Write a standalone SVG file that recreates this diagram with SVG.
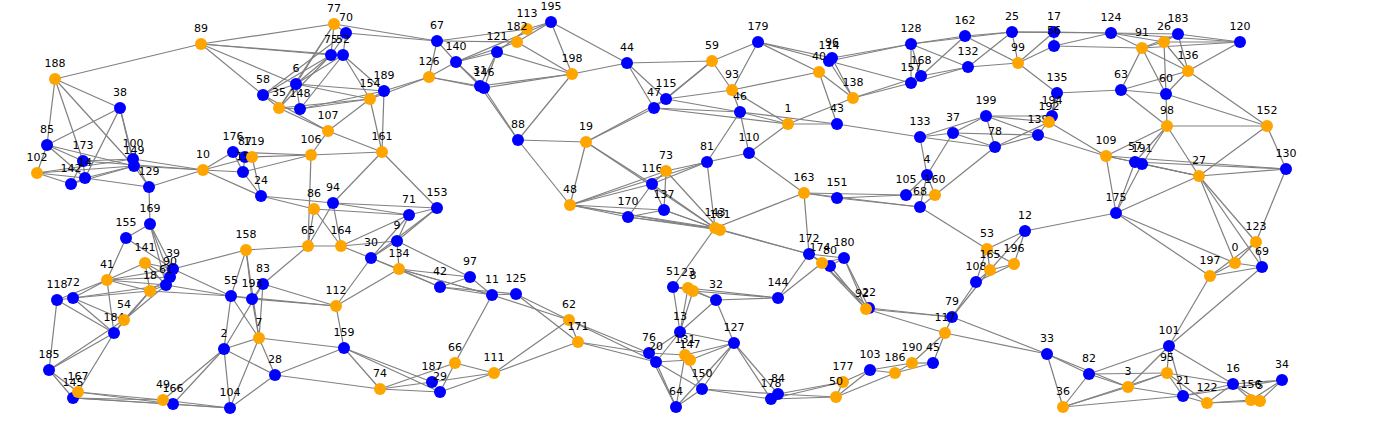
<svg xmlns="http://www.w3.org/2000/svg" width="1376" height="431" viewBox="0 0 1376 431">
<style>
.e line{stroke:#808080;stroke-width:1.2}
.b{fill:#0000ff}
.o{fill:#ffa500}
text{font-family:"DejaVu Sans",sans-serif;font-size:11px;fill:#000;text-anchor:middle}
</style>
<rect width="1376" height="431" fill="#fff"/>
<g id="edges" class="e">
<line x1="55" y1="79" x2="201" y2="44"/><line x1="55" y1="79" x2="120" y2="108"/><line x1="55" y1="79" x2="47" y2="145"/><line x1="55" y1="79" x2="83" y2="161"/><line x1="55" y1="79" x2="134" y2="166"/>
<line x1="120" y1="108" x2="47" y2="145"/><line x1="120" y1="108" x2="85" y2="178"/><line x1="120" y1="108" x2="134" y2="166"/><line x1="120" y1="108" x2="133" y2="159"/>
<line x1="47" y1="145" x2="37" y2="173"/><line x1="47" y1="145" x2="83" y2="161"/><line x1="47" y1="145" x2="134" y2="166"/><line x1="47" y1="145" x2="85" y2="178"/>
<line x1="37" y1="173" x2="71" y2="184"/><line x1="37" y1="173" x2="85" y2="178"/><line x1="37" y1="173" x2="134" y2="166"/><line x1="37" y1="173" x2="133" y2="159"/>
<line x1="83" y1="161" x2="133" y2="159"/><line x1="83" y1="161" x2="85" y2="178"/><line x1="83" y1="161" x2="71" y2="184"/><line x1="83" y1="161" x2="203" y2="170"/>
<line x1="85" y1="178" x2="134" y2="166"/><line x1="85" y1="178" x2="149" y2="187"/><line x1="71" y1="184" x2="134" y2="166"/><line x1="71" y1="184" x2="85" y2="178"/>
<line x1="133" y1="159" x2="149" y2="187"/><line x1="134" y1="166" x2="149" y2="187"/><line x1="134" y1="166" x2="203" y2="170"/><line x1="133" y1="159" x2="203" y2="170"/>
<line x1="149" y1="187" x2="203" y2="170"/><line x1="149" y1="187" x2="150" y2="224"/>
<line x1="203" y1="170" x2="233" y2="152"/><line x1="203" y1="170" x2="252" y2="157"/><line x1="203" y1="170" x2="243" y2="172"/><line x1="203" y1="170" x2="261" y2="196"/>
<line x1="233" y1="152" x2="311" y2="155"/><line x1="252" y1="157" x2="311" y2="155"/><line x1="243" y1="172" x2="311" y2="155"/><line x1="233" y1="152" x2="243" y2="172"/><line x1="245" y1="157" x2="243" y2="172"/><line x1="252" y1="157" x2="261" y2="196"/><line x1="243" y1="172" x2="261" y2="196"/><line x1="233" y1="152" x2="245" y2="157"/>
<line x1="261" y1="196" x2="333" y2="203"/><line x1="261" y1="196" x2="314" y2="209"/>
<line x1="311" y1="155" x2="382" y2="152"/><line x1="311" y1="155" x2="328" y2="131"/><line x1="311" y1="155" x2="308" y2="246"/>
<line x1="201" y1="44" x2="334" y2="24"/><line x1="201" y1="44" x2="331" y2="55"/><line x1="201" y1="44" x2="343" y2="55"/><line x1="201" y1="44" x2="263" y2="95"/><line x1="201" y1="44" x2="296" y2="84"/>
<line x1="334" y1="24" x2="346" y2="33"/><line x1="334" y1="24" x2="296" y2="84"/><line x1="334" y1="24" x2="279" y2="108"/><line x1="334" y1="24" x2="437" y2="41"/><line x1="334" y1="24" x2="331" y2="55"/>
<line x1="346" y1="33" x2="437" y2="41"/><line x1="346" y1="33" x2="331" y2="55"/><line x1="346" y1="33" x2="263" y2="95"/><line x1="346" y1="33" x2="343" y2="55"/>
<line x1="331" y1="55" x2="296" y2="84"/><line x1="331" y1="55" x2="263" y2="95"/><line x1="331" y1="55" x2="279" y2="108"/><line x1="331" y1="55" x2="343" y2="55"/>
<line x1="343" y1="55" x2="296" y2="84"/><line x1="343" y1="55" x2="370" y2="99"/><line x1="343" y1="55" x2="384" y2="91"/><line x1="343" y1="55" x2="300" y2="109"/>
<line x1="296" y1="84" x2="300" y2="109"/><line x1="296" y1="84" x2="279" y2="108"/><line x1="296" y1="84" x2="263" y2="95"/><line x1="296" y1="84" x2="370" y2="99"/><line x1="296" y1="84" x2="384" y2="91"/>
<line x1="263" y1="95" x2="279" y2="108"/><line x1="263" y1="95" x2="328" y2="131"/><line x1="279" y1="108" x2="328" y2="131"/><line x1="279" y1="108" x2="300" y2="109"/><line x1="279" y1="108" x2="370" y2="99"/>
<line x1="300" y1="109" x2="370" y2="99"/><line x1="300" y1="109" x2="384" y2="91"/><line x1="328" y1="131" x2="370" y2="99"/><line x1="328" y1="131" x2="382" y2="152"/>
<line x1="370" y1="99" x2="382" y2="152"/><line x1="384" y1="91" x2="382" y2="152"/><line x1="370" y1="99" x2="384" y2="91"/><line x1="384" y1="91" x2="429" y2="77"/><line x1="370" y1="99" x2="429" y2="77"/>
<line x1="429" y1="77" x2="437" y2="41"/><line x1="429" y1="77" x2="456" y2="62"/><line x1="429" y1="77" x2="484" y2="88"/><line x1="429" y1="77" x2="480" y2="86"/>
<line x1="437" y1="41" x2="456" y2="62"/><line x1="437" y1="41" x2="517" y2="42"/><line x1="437" y1="41" x2="527" y2="29"/>
<line x1="456" y1="62" x2="484" y2="88"/><line x1="456" y1="62" x2="480" y2="86"/><line x1="456" y1="62" x2="497" y2="52"/><line x1="456" y1="62" x2="517" y2="42"/><line x1="456" y1="62" x2="551" y2="22"/>
<line x1="497" y1="52" x2="484" y2="88"/><line x1="497" y1="52" x2="480" y2="86"/><line x1="497" y1="52" x2="572" y2="74"/><line x1="497" y1="52" x2="527" y2="29"/>
<line x1="517" y1="42" x2="572" y2="74"/><line x1="527" y1="29" x2="551" y2="22"/><line x1="517" y1="42" x2="551" y2="22"/><line x1="551" y1="22" x2="572" y2="74"/><line x1="551" y1="22" x2="627" y2="63"/>
<line x1="480" y1="86" x2="572" y2="74"/><line x1="484" y1="88" x2="572" y2="74"/><line x1="484" y1="88" x2="518" y2="140"/><line x1="480" y1="86" x2="518" y2="140"/>
<line x1="572" y1="74" x2="518" y2="140"/><line x1="572" y1="74" x2="627" y2="63"/><line x1="518" y1="140" x2="586" y2="142"/><line x1="518" y1="140" x2="570" y2="205"/>
<line x1="586" y1="142" x2="570" y2="205"/><line x1="586" y1="142" x2="654" y2="108"/><line x1="586" y1="142" x2="666" y2="99"/><line x1="586" y1="142" x2="652" y2="184"/><line x1="586" y1="142" x2="715" y2="228"/>
<line x1="627" y1="63" x2="654" y2="108"/><line x1="627" y1="63" x2="666" y2="99"/><line x1="627" y1="63" x2="712" y2="61"/>
<line x1="654" y1="108" x2="740" y2="112"/><line x1="666" y1="99" x2="740" y2="112"/><line x1="654" y1="108" x2="788" y2="124"/><line x1="712" y1="61" x2="654" y2="108"/><line x1="712" y1="61" x2="758" y2="42"/><line x1="712" y1="61" x2="732" y2="90"/><line x1="712" y1="61" x2="666" y2="99"/>
<line x1="758" y1="42" x2="732" y2="90"/><line x1="758" y1="42" x2="819" y2="72"/><line x1="758" y1="42" x2="829" y2="61"/><line x1="758" y1="42" x2="832" y2="58"/>
<line x1="732" y1="90" x2="819" y2="72"/><line x1="732" y1="90" x2="740" y2="112"/><line x1="732" y1="90" x2="788" y2="124"/><line x1="732" y1="90" x2="666" y2="99"/>
<line x1="740" y1="112" x2="788" y2="124"/><line x1="740" y1="112" x2="837" y2="124"/><line x1="740" y1="112" x2="749" y2="153"/><line x1="740" y1="112" x2="707" y2="162"/>
<line x1="788" y1="124" x2="749" y2="153"/><line x1="788" y1="124" x2="853" y2="98"/><line x1="788" y1="124" x2="837" y2="124"/>
<line x1="819" y1="72" x2="837" y2="124"/><line x1="819" y1="72" x2="853" y2="98"/><line x1="829" y1="61" x2="853" y2="98"/><line x1="832" y1="58" x2="853" y2="98"/><line x1="829" y1="61" x2="911" y2="83"/><line x1="832" y1="58" x2="911" y2="44"/><line x1="829" y1="61" x2="911" y2="44"/>
<line x1="853" y1="98" x2="911" y2="83"/><line x1="853" y1="98" x2="921" y2="76"/>
<line x1="911" y1="44" x2="911" y2="83"/><line x1="911" y1="44" x2="965" y2="36"/><line x1="911" y1="44" x2="968" y2="67"/><line x1="911" y1="44" x2="1012" y2="32"/><line x1="911" y1="44" x2="921" y2="76"/>
<line x1="921" y1="76" x2="968" y2="67"/><line x1="921" y1="76" x2="965" y2="36"/><line x1="911" y1="83" x2="968" y2="67"/>
<line x1="965" y1="36" x2="1012" y2="32"/><line x1="965" y1="36" x2="1018" y2="63"/><line x1="968" y1="67" x2="1018" y2="63"/><line x1="968" y1="67" x2="1012" y2="32"/>
<line x1="1012" y1="32" x2="1054" y2="32"/><line x1="1012" y1="32" x2="1111" y2="33"/><line x1="1012" y1="32" x2="1018" y2="63"/>
<line x1="1018" y1="63" x2="1054" y2="46"/><line x1="1018" y1="63" x2="1054" y2="32"/><line x1="1018" y1="63" x2="1057" y2="93"/>
<line x1="1054" y1="32" x2="1054" y2="46"/><line x1="1054" y1="32" x2="1111" y2="33"/><line x1="1054" y1="46" x2="1111" y2="33"/><line x1="1054" y1="46" x2="1142" y2="48"/>
<line x1="1111" y1="33" x2="1142" y2="48"/><line x1="1111" y1="33" x2="1178" y2="34"/><line x1="1111" y1="33" x2="1240" y2="42"/><line x1="1111" y1="33" x2="1164" y2="42"/>
<line x1="1142" y1="48" x2="1164" y2="42"/><line x1="1142" y1="48" x2="1178" y2="34"/><line x1="1142" y1="48" x2="1240" y2="42"/><line x1="1142" y1="48" x2="1121" y2="90"/><line x1="1142" y1="48" x2="1166" y2="94"/><line x1="1142" y1="48" x2="1188" y2="71"/>
<line x1="1164" y1="42" x2="1166" y2="94"/><line x1="1164" y1="42" x2="1188" y2="71"/><line x1="1164" y1="42" x2="1178" y2="34"/><line x1="1178" y1="34" x2="1188" y2="71"/><line x1="1178" y1="34" x2="1240" y2="42"/><line x1="1164" y1="42" x2="1240" y2="42"/>
<line x1="1188" y1="71" x2="1240" y2="42"/><line x1="1188" y1="71" x2="1121" y2="90"/><line x1="1188" y1="71" x2="1166" y2="94"/><line x1="1188" y1="71" x2="1267" y2="126"/>
<line x1="1057" y1="93" x2="1121" y2="90"/><line x1="1121" y1="90" x2="1166" y2="94"/><line x1="1121" y1="90" x2="1167" y2="126"/><line x1="1166" y1="94" x2="1167" y2="126"/><line x1="1166" y1="94" x2="1267" y2="126"/>
<line x1="1167" y1="126" x2="1267" y2="126"/><line x1="1167" y1="126" x2="1106" y2="156"/><line x1="1167" y1="126" x2="1135" y2="162"/><line x1="1167" y1="126" x2="1142" y2="164"/><line x1="1167" y1="126" x2="1199" y2="176"/>
<line x1="1057" y1="93" x2="1052" y2="116"/><line x1="1057" y1="93" x2="1049" y2="122"/>
<line x1="1267" y1="126" x2="1199" y2="176"/><line x1="1267" y1="126" x2="1286" y2="169"/>
<line x1="1199" y1="176" x2="1286" y2="169"/><line x1="1199" y1="176" x2="1106" y2="156"/><line x1="1199" y1="176" x2="1135" y2="162"/><line x1="1199" y1="176" x2="1142" y2="164"/><line x1="1199" y1="176" x2="1116" y2="213"/><line x1="1199" y1="176" x2="1256" y2="242"/><line x1="1199" y1="176" x2="1235" y2="263"/><line x1="1199" y1="176" x2="1262" y2="267"/>
<line x1="1106" y1="156" x2="1116" y2="213"/><line x1="1106" y1="156" x2="1286" y2="169"/><line x1="1135" y1="162" x2="1116" y2="213"/><line x1="1142" y1="164" x2="1116" y2="213"/><line x1="1135" y1="162" x2="1286" y2="169"/><line x1="1106" y1="156" x2="1135" y2="162"/>
<line x1="1286" y1="169" x2="1256" y2="242"/><line x1="1256" y1="242" x2="1235" y2="263"/><line x1="1256" y1="242" x2="1210" y2="276"/><line x1="1235" y1="263" x2="1210" y2="276"/><line x1="1235" y1="263" x2="1262" y2="267"/><line x1="1210" y1="276" x2="1262" y2="267"/><line x1="1116" y1="213" x2="1235" y2="263"/><line x1="1116" y1="213" x2="1210" y2="276"/><line x1="1256" y1="242" x2="1262" y2="267"/>
<line x1="1262" y1="267" x2="1169" y2="346"/><line x1="1210" y1="276" x2="1169" y2="346"/><line x1="1116" y1="213" x2="1025" y2="231"/>
<line x1="920" y1="137" x2="953" y2="133"/><line x1="920" y1="137" x2="986" y2="116"/><line x1="920" y1="137" x2="995" y2="147"/><line x1="837" y1="124" x2="920" y2="137"/><line x1="920" y1="137" x2="927" y2="175"/>
<line x1="953" y1="133" x2="986" y2="116"/><line x1="953" y1="133" x2="995" y2="147"/><line x1="953" y1="133" x2="1038" y2="135"/><line x1="953" y1="133" x2="927" y2="175"/>
<line x1="986" y1="116" x2="995" y2="147"/><line x1="986" y1="116" x2="1052" y2="116"/><line x1="986" y1="116" x2="1049" y2="122"/><line x1="986" y1="116" x2="1038" y2="135"/>
<line x1="995" y1="147" x2="1038" y2="135"/><line x1="995" y1="147" x2="1049" y2="122"/><line x1="995" y1="147" x2="935" y2="195"/>
<line x1="1038" y1="135" x2="1106" y2="156"/><line x1="1049" y1="122" x2="1106" y2="156"/><line x1="1052" y1="116" x2="1038" y2="135"/>
<line x1="927" y1="175" x2="935" y2="195"/><line x1="927" y1="175" x2="920" y2="207"/><line x1="927" y1="175" x2="906" y2="195"/>
<line x1="906" y1="195" x2="837" y2="198"/><line x1="906" y1="195" x2="804" y2="193"/><line x1="906" y1="195" x2="935" y2="195"/><line x1="920" y1="207" x2="837" y2="198"/><line x1="920" y1="207" x2="804" y2="193"/><line x1="920" y1="207" x2="935" y2="195"/><line x1="920" y1="207" x2="987" y2="249"/>
<line x1="837" y1="198" x2="804" y2="193"/><line x1="749" y1="153" x2="804" y2="193"/><line x1="749" y1="153" x2="707" y2="162"/>
<line x1="707" y1="162" x2="570" y2="205"/><line x1="707" y1="162" x2="666" y2="171"/><line x1="707" y1="162" x2="652" y2="184"/><line x1="707" y1="162" x2="715" y2="228"/>
<line x1="804" y1="193" x2="809" y2="254"/><line x1="804" y1="193" x2="715" y2="228"/>
<line x1="715" y1="228" x2="809" y2="254"/><line x1="720" y1="230" x2="809" y2="254"/><line x1="715" y1="228" x2="652" y2="184"/><line x1="715" y1="228" x2="664" y2="210"/><line x1="715" y1="228" x2="628" y2="217"/><line x1="715" y1="228" x2="570" y2="205"/><line x1="720" y1="230" x2="664" y2="210"/><line x1="720" y1="230" x2="570" y2="205"/><line x1="720" y1="230" x2="628" y2="217"/><line x1="715" y1="228" x2="673" y2="287"/><line x1="666" y1="171" x2="720" y2="230"/>
<line x1="809" y1="254" x2="822" y2="263"/><line x1="809" y1="254" x2="830" y2="266"/><line x1="809" y1="254" x2="844" y2="258"/><line x1="809" y1="254" x2="778" y2="298"/>
<line x1="822" y1="263" x2="844" y2="258"/><line x1="830" y1="266" x2="844" y2="258"/><line x1="822" y1="263" x2="866" y2="309"/><line x1="830" y1="266" x2="866" y2="309"/><line x1="844" y1="258" x2="869" y2="308"/><line x1="844" y1="258" x2="866" y2="309"/><line x1="822" y1="263" x2="869" y2="308"/>
<line x1="778" y1="298" x2="716" y2="300"/><line x1="778" y1="298" x2="688" y2="288"/><line x1="778" y1="298" x2="693" y2="291"/><line x1="778" y1="298" x2="822" y2="263"/>
<line x1="987" y1="249" x2="1025" y2="231"/><line x1="987" y1="249" x2="990" y2="270"/><line x1="987" y1="249" x2="1014" y2="264"/><line x1="987" y1="249" x2="976" y2="282"/><line x1="1025" y1="231" x2="990" y2="270"/><line x1="1025" y1="231" x2="1014" y2="264"/>
<line x1="990" y1="270" x2="1014" y2="264"/><line x1="990" y1="270" x2="976" y2="282"/><line x1="1014" y1="264" x2="976" y2="282"/><line x1="990" y1="270" x2="952" y2="317"/><line x1="976" y1="282" x2="952" y2="317"/>
<line x1="869" y1="308" x2="952" y2="317"/><line x1="866" y1="309" x2="952" y2="317"/><line x1="866" y1="309" x2="945" y2="333"/>
<line x1="952" y1="317" x2="945" y2="333"/><line x1="952" y1="317" x2="1047" y2="354"/><line x1="945" y1="333" x2="1047" y2="354"/><line x1="945" y1="333" x2="933" y2="363"/><line x1="945" y1="333" x2="912" y2="363"/>
<line x1="933" y1="363" x2="912" y2="363"/><line x1="933" y1="363" x2="895" y2="373"/><line x1="912" y1="363" x2="895" y2="373"/><line x1="912" y1="363" x2="870" y2="370"/><line x1="895" y1="373" x2="870" y2="370"/><line x1="895" y1="373" x2="836" y2="397"/>
<line x1="870" y1="370" x2="843" y2="382"/><line x1="870" y1="370" x2="836" y2="397"/><line x1="843" y1="382" x2="836" y2="397"/><line x1="843" y1="382" x2="778" y2="394"/><line x1="843" y1="382" x2="771" y2="399"/><line x1="836" y1="397" x2="771" y2="399"/><line x1="836" y1="397" x2="778" y2="394"/>
<line x1="778" y1="394" x2="734" y2="343"/><line x1="771" y1="399" x2="734" y2="343"/><line x1="778" y1="394" x2="702" y2="389"/><line x1="771" y1="399" x2="702" y2="389"/>
<line x1="734" y1="343" x2="680" y2="332"/><line x1="734" y1="343" x2="716" y2="300"/><line x1="734" y1="343" x2="685" y2="355"/><line x1="734" y1="343" x2="690" y2="360"/><line x1="734" y1="343" x2="676" y2="407"/><line x1="734" y1="343" x2="702" y2="389"/>
<line x1="716" y1="300" x2="680" y2="332"/><line x1="716" y1="300" x2="693" y2="291"/><line x1="716" y1="300" x2="688" y2="288"/>
<line x1="680" y1="332" x2="673" y2="287"/><line x1="680" y1="332" x2="688" y2="288"/><line x1="680" y1="332" x2="693" y2="291"/><line x1="680" y1="332" x2="656" y2="362"/><line x1="680" y1="332" x2="649" y2="353"/><line x1="680" y1="332" x2="685" y2="355"/>
<line x1="673" y1="287" x2="688" y2="288"/><line x1="673" y1="287" x2="693" y2="291"/>
<line x1="649" y1="353" x2="569" y2="320"/><line x1="649" y1="353" x2="578" y2="342"/><line x1="656" y1="362" x2="569" y2="320"/><line x1="656" y1="362" x2="578" y2="342"/><line x1="649" y1="353" x2="685" y2="355"/><line x1="656" y1="362" x2="690" y2="360"/><line x1="649" y1="353" x2="676" y2="407"/><line x1="656" y1="362" x2="676" y2="407"/>
<line x1="702" y1="389" x2="676" y2="407"/><line x1="702" y1="389" x2="685" y2="355"/><line x1="702" y1="389" x2="656" y2="362"/><line x1="685" y1="355" x2="676" y2="407"/>
<line x1="569" y1="320" x2="492" y2="295"/><line x1="569" y1="320" x2="516" y2="294"/><line x1="569" y1="320" x2="494" y2="373"/><line x1="578" y1="342" x2="494" y2="373"/><line x1="578" y1="342" x2="516" y2="294"/><line x1="569" y1="320" x2="578" y2="342"/>
<line x1="492" y1="295" x2="516" y2="294"/><line x1="492" y1="295" x2="455" y2="363"/><line x1="492" y1="295" x2="470" y2="277"/><line x1="492" y1="295" x2="440" y2="287"/><line x1="492" y1="295" x2="399" y2="269"/><line x1="440" y1="287" x2="516" y2="294"/>
<line x1="470" y1="277" x2="440" y2="287"/><line x1="470" y1="277" x2="399" y2="269"/><line x1="470" y1="277" x2="397" y2="241"/>
<line x1="455" y1="363" x2="494" y2="373"/><line x1="455" y1="363" x2="380" y2="389"/><line x1="455" y1="363" x2="440" y2="392"/><line x1="494" y1="373" x2="440" y2="392"/><line x1="494" y1="373" x2="432" y2="382"/>
<line x1="432" y1="382" x2="380" y2="389"/><line x1="440" y1="392" x2="380" y2="389"/><line x1="432" y1="382" x2="344" y2="348"/><line x1="440" y1="392" x2="344" y2="348"/><line x1="380" y1="389" x2="344" y2="348"/>
<line x1="344" y1="348" x2="336" y2="306"/><line x1="344" y1="348" x2="259" y2="338"/><line x1="344" y1="348" x2="275" y2="375"/><line x1="275" y1="375" x2="380" y2="389"/>
<line x1="259" y1="338" x2="275" y2="375"/><line x1="259" y1="338" x2="224" y2="349"/><line x1="259" y1="338" x2="230" y2="408"/><line x1="259" y1="338" x2="252" y2="299"/><line x1="259" y1="338" x2="231" y2="296"/><line x1="259" y1="338" x2="263" y2="284"/>
<line x1="224" y1="349" x2="230" y2="408"/><line x1="224" y1="349" x2="275" y2="375"/><line x1="224" y1="349" x2="163" y2="400"/><line x1="224" y1="349" x2="173" y2="404"/><line x1="224" y1="349" x2="231" y2="296"/><line x1="224" y1="349" x2="263" y2="284"/>
<line x1="230" y1="408" x2="275" y2="375"/><line x1="230" y1="408" x2="173" y2="404"/><line x1="230" y1="408" x2="73" y2="398"/><line x1="230" y1="408" x2="163" y2="400"/>
<line x1="173" y1="404" x2="78" y2="392"/><line x1="173" y1="404" x2="73" y2="398"/><line x1="163" y1="400" x2="78" y2="392"/><line x1="163" y1="400" x2="73" y2="398"/>
<line x1="78" y1="392" x2="73" y2="398"/><line x1="78" y1="392" x2="49" y2="370"/><line x1="78" y1="392" x2="114" y2="333"/><line x1="73" y1="398" x2="49" y2="370"/>
<line x1="49" y1="370" x2="57" y2="300"/><line x1="49" y1="370" x2="114" y2="333"/><line x1="49" y1="370" x2="124" y2="320"/>
<line x1="57" y1="300" x2="73" y2="298"/><line x1="57" y1="300" x2="114" y2="333"/><line x1="57" y1="300" x2="107" y2="280"/><line x1="73" y1="298" x2="107" y2="280"/><line x1="73" y1="298" x2="124" y2="320"/><line x1="73" y1="298" x2="114" y2="333"/><line x1="73" y1="298" x2="150" y2="291"/><line x1="73" y1="298" x2="166" y2="285"/>
<line x1="114" y1="333" x2="107" y2="280"/><line x1="114" y1="333" x2="124" y2="320"/><line x1="114" y1="333" x2="150" y2="291"/><line x1="124" y1="320" x2="150" y2="291"/><line x1="124" y1="320" x2="166" y2="285"/>
<line x1="107" y1="280" x2="126" y2="238"/><line x1="107" y1="280" x2="145" y2="263"/><line x1="107" y1="280" x2="150" y2="291"/><line x1="107" y1="280" x2="166" y2="285"/><line x1="107" y1="280" x2="173" y2="269"/><line x1="107" y1="280" x2="170" y2="277"/>
<line x1="126" y1="238" x2="150" y2="224"/><line x1="126" y1="238" x2="173" y2="269"/><line x1="150" y1="224" x2="173" y2="269"/><line x1="150" y1="224" x2="170" y2="277"/><line x1="150" y1="224" x2="166" y2="285"/>
<line x1="145" y1="263" x2="150" y2="291"/><line x1="145" y1="263" x2="173" y2="269"/><line x1="145" y1="263" x2="166" y2="285"/><line x1="145" y1="263" x2="170" y2="277"/>
<line x1="173" y1="269" x2="246" y2="250"/><line x1="173" y1="269" x2="231" y2="296"/><line x1="166" y1="285" x2="231" y2="296"/><line x1="150" y1="291" x2="231" y2="296"/><line x1="150" y1="291" x2="166" y2="285"/><line x1="170" y1="277" x2="150" y2="291"/>
<line x1="231" y1="296" x2="252" y2="299"/><line x1="231" y1="296" x2="336" y2="306"/><line x1="252" y1="299" x2="263" y2="284"/><line x1="252" y1="299" x2="336" y2="306"/><line x1="263" y1="284" x2="336" y2="306"/><line x1="263" y1="284" x2="308" y2="246"/>
<line x1="246" y1="250" x2="308" y2="246"/><line x1="246" y1="250" x2="231" y2="296"/><line x1="246" y1="250" x2="252" y2="299"/><line x1="246" y1="250" x2="259" y2="338"/>
<line x1="308" y1="246" x2="341" y2="246"/><line x1="308" y1="246" x2="314" y2="209"/><line x1="308" y1="246" x2="333" y2="203"/>
<line x1="341" y1="246" x2="314" y2="209"/><line x1="341" y1="246" x2="333" y2="203"/><line x1="341" y1="246" x2="397" y2="241"/><line x1="341" y1="246" x2="371" y2="258"/><line x1="341" y1="246" x2="409" y2="215"/>
<line x1="333" y1="203" x2="409" y2="215"/><line x1="333" y1="203" x2="437" y2="208"/><line x1="333" y1="203" x2="382" y2="152"/><line x1="314" y1="209" x2="409" y2="215"/>
<line x1="409" y1="215" x2="437" y2="208"/><line x1="409" y1="215" x2="397" y2="241"/><line x1="409" y1="215" x2="371" y2="258"/><line x1="437" y1="208" x2="397" y2="241"/><line x1="437" y1="208" x2="371" y2="258"/><line x1="437" y1="208" x2="382" y2="152"/>
<line x1="397" y1="241" x2="371" y2="258"/><line x1="397" y1="241" x2="399" y2="269"/><line x1="371" y1="258" x2="399" y2="269"/><line x1="371" y1="258" x2="440" y2="287"/><line x1="371" y1="258" x2="336" y2="306"/><line x1="399" y1="269" x2="440" y2="287"/><line x1="399" y1="269" x2="492" y2="295"/><line x1="336" y1="306" x2="399" y2="269"/>
<line x1="570" y1="205" x2="628" y2="217"/><line x1="570" y1="205" x2="664" y2="210"/><line x1="570" y1="205" x2="666" y2="171"/><line x1="570" y1="205" x2="652" y2="184"/>
<line x1="652" y1="184" x2="666" y2="171"/><line x1="652" y1="184" x2="628" y2="217"/><line x1="652" y1="184" x2="664" y2="210"/><line x1="666" y1="171" x2="664" y2="210"/><line x1="664" y1="210" x2="628" y2="217"/>
<line x1="1047" y1="354" x2="1089" y2="374"/><line x1="1047" y1="354" x2="1063" y2="407"/><line x1="1047" y1="354" x2="1128" y2="387"/>
<line x1="1089" y1="374" x2="1063" y2="407"/><line x1="1089" y1="374" x2="1128" y2="387"/><line x1="1089" y1="374" x2="1167" y2="373"/><line x1="1089" y1="374" x2="1169" y2="346"/>
<line x1="1063" y1="407" x2="1128" y2="387"/><line x1="1063" y1="407" x2="1167" y2="373"/><line x1="1063" y1="407" x2="1183" y2="396"/>
<line x1="1128" y1="387" x2="1167" y2="373"/><line x1="1128" y1="387" x2="1169" y2="346"/><line x1="1128" y1="387" x2="1183" y2="396"/>
<line x1="1169" y1="346" x2="1167" y2="373"/><line x1="1169" y1="346" x2="1183" y2="396"/><line x1="1169" y1="346" x2="1233" y2="384"/>
<line x1="1167" y1="373" x2="1183" y2="396"/><line x1="1167" y1="373" x2="1233" y2="384"/><line x1="1167" y1="373" x2="1207" y2="403"/><line x1="1183" y1="396" x2="1207" y2="403"/><line x1="1183" y1="396" x2="1233" y2="384"/><line x1="1183" y1="396" x2="1282" y2="380"/>
<line x1="1207" y1="403" x2="1251" y2="400"/><line x1="1207" y1="403" x2="1260" y2="401"/><line x1="1207" y1="403" x2="1233" y2="384"/>
<line x1="1233" y1="384" x2="1251" y2="400"/><line x1="1233" y1="384" x2="1260" y2="401"/><line x1="1233" y1="384" x2="1282" y2="380"/><line x1="1251" y1="400" x2="1282" y2="380"/><line x1="1260" y1="401" x2="1282" y2="380"/><line x1="1251" y1="400" x2="1260" y2="401"/>
</g>
<g id="nodes">
<g id="n195"><circle class="b" cx="551" cy="22" r="6"/><text x="551" y="10">195</text></g>
<g id="n25"><circle class="b" cx="1012" cy="32" r="6"/><text x="1012" y="20">25</text></g>
<g id="n17"><circle class="b" cx="1054" cy="32" r="6"/><text x="1054" y="20">17</text></g>
<g id="n70"><circle class="b" cx="346" cy="33" r="6"/><text x="346" y="21">70</text></g>
<g id="n124"><circle class="b" cx="1111" cy="33" r="6"/><text x="1111" y="21">124</text></g>
<g id="n183"><circle class="b" cx="1178" cy="34" r="6"/><text x="1178" y="22">183</text></g>
<g id="n162"><circle class="b" cx="965" cy="36" r="6"/><text x="965" y="24">162</text></g>
<g id="n67"><circle class="b" cx="437" cy="41" r="6"/><text x="437" y="29">67</text></g>
<g id="n179"><circle class="b" cx="758" cy="42" r="6"/><text x="758" y="30">179</text></g>
<g id="n120"><circle class="b" cx="1240" cy="42" r="6"/><text x="1240" y="30">120</text></g>
<g id="n128"><circle class="b" cx="911" cy="44" r="6"/><text x="911" y="32">128</text></g>
<g id="n56"><circle class="b" cx="1054" cy="46" r="6"/><text x="1054" y="34">56</text></g>
<g id="n121"><circle class="b" cx="497" cy="52" r="6"/><text x="497" y="40">121</text></g>
<g id="n75"><circle class="b" cx="331" cy="55" r="6"/><text x="331" y="43">75</text></g>
<g id="n52"><circle class="b" cx="343" cy="55" r="6"/><text x="343" y="43">52</text></g>
<g id="n96"><circle class="b" cx="832" cy="58" r="6"/><text x="832" y="46">96</text></g>
<g id="n114"><circle class="b" cx="829" cy="61" r="6"/><text x="829" y="49">114</text></g>
<g id="n140"><circle class="b" cx="456" cy="62" r="6"/><text x="456" y="50">140</text></g>
<g id="n44"><circle class="b" cx="627" cy="63" r="6"/><text x="627" y="51">44</text></g>
<g id="n132"><circle class="b" cx="968" cy="67" r="6"/><text x="968" y="55">132</text></g>
<g id="n168"><circle class="b" cx="921" cy="76" r="6"/><text x="921" y="64">168</text></g>
<g id="n157"><circle class="b" cx="911" cy="83" r="6"/><text x="911" y="71">157</text></g>
<g id="n6"><circle class="b" cx="296" cy="84" r="6"/><text x="296" y="72">6</text></g>
<g id="n31"><circle class="b" cx="480" cy="86" r="6"/><text x="480" y="74">31</text></g>
<g id="n146"><circle class="b" cx="484" cy="88" r="6"/><text x="484" y="76">146</text></g>
<g id="n63"><circle class="b" cx="1121" cy="90" r="6"/><text x="1121" y="78">63</text></g>
<g id="n189"><circle class="b" cx="384" cy="91" r="6"/><text x="384" y="79">189</text></g>
<g id="n135"><circle class="b" cx="1057" cy="93" r="6"/><text x="1057" y="81">135</text></g>
<g id="n60"><circle class="b" cx="1166" cy="94" r="6"/><text x="1166" y="82">60</text></g>
<g id="n58"><circle class="b" cx="263" cy="95" r="6"/><text x="263" y="83">58</text></g>
<g id="n115"><circle class="b" cx="666" cy="99" r="6"/><text x="666" y="87">115</text></g>
<g id="n38"><circle class="b" cx="120" cy="108" r="6"/><text x="120" y="96">38</text></g>
<g id="n47"><circle class="b" cx="654" cy="108" r="6"/><text x="654" y="96">47</text></g>
<g id="n148"><circle class="b" cx="300" cy="109" r="6"/><text x="300" y="97">148</text></g>
<g id="n46"><circle class="b" cx="740" cy="112" r="6"/><text x="740" y="100">46</text></g>
<g id="n199"><circle class="b" cx="986" cy="116" r="6"/><text x="986" y="104">199</text></g>
<g id="n194"><circle class="b" cx="1052" cy="116" r="6"/><text x="1052" y="104">194</text></g>
<g id="n43"><circle class="b" cx="837" cy="124" r="6"/><text x="837" y="112">43</text></g>
<g id="n37"><circle class="b" cx="953" cy="133" r="6"/><text x="953" y="121">37</text></g>
<g id="n139"><circle class="b" cx="1038" cy="135" r="6"/><text x="1038" y="123">139</text></g>
<g id="n133"><circle class="b" cx="920" cy="137" r="6"/><text x="920" y="125">133</text></g>
<g id="n88"><circle class="b" cx="518" cy="140" r="6"/><text x="518" y="128">88</text></g>
<g id="n85"><circle class="b" cx="47" cy="145" r="6"/><text x="47" y="133">85</text></g>
<g id="n78"><circle class="b" cx="995" cy="147" r="6"/><text x="995" y="135">78</text></g>
<g id="n176"><circle class="b" cx="233" cy="152" r="6"/><text x="233" y="140">176</text></g>
<g id="n110"><circle class="b" cx="749" cy="153" r="6"/><text x="749" y="141">110</text></g>
<g id="n87"><circle class="b" cx="245" cy="157" r="6"/><text x="245" y="145">87</text></g>
<g id="n100"><circle class="b" cx="133" cy="159" r="6"/><text x="133" y="147">100</text></g>
<g id="n173"><circle class="b" cx="83" cy="161" r="6"/><text x="83" y="149">173</text></g>
<g id="n81"><circle class="b" cx="707" cy="162" r="6"/><text x="707" y="150">81</text></g>
<g id="n57"><circle class="b" cx="1135" cy="162" r="6"/><text x="1135" y="150">57</text></g>
<g id="n191"><circle class="b" cx="1142" cy="164" r="6"/><text x="1142" y="152">191</text></g>
<g id="n149"><circle class="b" cx="134" cy="166" r="6"/><text x="134" y="154">149</text></g>
<g id="n130"><circle class="b" cx="1286" cy="169" r="6"/><text x="1286" y="157">130</text></g>
<g id="n15"><circle class="b" cx="243" cy="172" r="6"/><text x="243" y="160">15</text></g>
<g id="n4"><circle class="b" cx="927" cy="175" r="6"/><text x="927" y="163">4</text></g>
<g id="n14"><circle class="b" cx="85" cy="178" r="6"/><text x="85" y="166">14</text></g>
<g id="n142"><circle class="b" cx="71" cy="184" r="6"/><text x="71" y="172">142</text></g>
<g id="n116"><circle class="b" cx="652" cy="184" r="6"/><text x="652" y="172">116</text></g>
<g id="n129"><circle class="b" cx="149" cy="187" r="6"/><text x="149" y="175">129</text></g>
<g id="n105"><circle class="b" cx="906" cy="195" r="6"/><text x="906" y="183">105</text></g>
<g id="n24"><circle class="b" cx="261" cy="196" r="6"/><text x="261" y="184">24</text></g>
<g id="n151"><circle class="b" cx="837" cy="198" r="6"/><text x="837" y="186">151</text></g>
<g id="n94"><circle class="b" cx="333" cy="203" r="6"/><text x="333" y="191">94</text></g>
<g id="n68"><circle class="b" cx="920" cy="207" r="6"/><text x="920" y="195">68</text></g>
<g id="n153"><circle class="b" cx="437" cy="208" r="6"/><text x="437" y="196">153</text></g>
<g id="n137"><circle class="b" cx="664" cy="210" r="6"/><text x="664" y="198">137</text></g>
<g id="n175"><circle class="b" cx="1116" cy="213" r="6"/><text x="1116" y="201">175</text></g>
<g id="n71"><circle class="b" cx="409" cy="215" r="6"/><text x="409" y="203">71</text></g>
<g id="n170"><circle class="b" cx="628" cy="217" r="6"/><text x="628" y="205">170</text></g>
<g id="n169"><circle class="b" cx="150" cy="224" r="6"/><text x="150" y="212">169</text></g>
<g id="n12"><circle class="b" cx="1025" cy="231" r="6"/><text x="1025" y="219">12</text></g>
<g id="n155"><circle class="b" cx="126" cy="238" r="6"/><text x="126" y="226">155</text></g>
<g id="n9"><circle class="b" cx="397" cy="241" r="6"/><text x="397" y="229">9</text></g>
<g id="n172"><circle class="b" cx="809" cy="254" r="6"/><text x="809" y="242">172</text></g>
<g id="n30"><circle class="b" cx="371" cy="258" r="6"/><text x="371" y="246">30</text></g>
<g id="n180"><circle class="b" cx="844" cy="258" r="6"/><text x="844" y="246">180</text></g>
<g id="n80"><circle class="b" cx="830" cy="266" r="6"/><text x="830" y="254">80</text></g>
<g id="n69"><circle class="b" cx="1262" cy="267" r="6"/><text x="1262" y="255">69</text></g>
<g id="n39"><circle class="b" cx="173" cy="269" r="6"/><text x="173" y="257">39</text></g>
<g id="n90"><circle class="b" cx="170" cy="277" r="6"/><text x="170" y="265">90</text></g>
<g id="n97"><circle class="b" cx="470" cy="277" r="6"/><text x="470" y="265">97</text></g>
<g id="n108"><circle class="b" cx="976" cy="282" r="6"/><text x="976" y="270">108</text></g>
<g id="n83"><circle class="b" cx="263" cy="284" r="6"/><text x="263" y="272">83</text></g>
<g id="n61"><circle class="b" cx="166" cy="285" r="6"/><text x="166" y="273">61</text></g>
<g id="n42"><circle class="b" cx="440" cy="287" r="6"/><text x="440" y="275">42</text></g>
<g id="n51"><circle class="b" cx="673" cy="287" r="6"/><text x="673" y="275">51</text></g>
<g id="n125"><circle class="b" cx="516" cy="294" r="6"/><text x="516" y="282">125</text></g>
<g id="n11"><circle class="b" cx="492" cy="295" r="6"/><text x="492" y="283">11</text></g>
<g id="n55"><circle class="b" cx="231" cy="296" r="6"/><text x="231" y="284">55</text></g>
<g id="n72"><circle class="b" cx="73" cy="298" r="6"/><text x="73" y="286">72</text></g>
<g id="n144"><circle class="b" cx="778" cy="298" r="6"/><text x="778" y="286">144</text></g>
<g id="n193"><circle class="b" cx="252" cy="299" r="6"/><text x="252" y="287">193</text></g>
<g id="n118"><circle class="b" cx="57" cy="300" r="6"/><text x="57" y="288">118</text></g>
<g id="n32"><circle class="b" cx="716" cy="300" r="6"/><text x="716" y="288">32</text></g>
<g id="n22"><circle class="b" cx="869" cy="308" r="6"/><text x="869" y="296">22</text></g>
<g id="n79"><circle class="b" cx="952" cy="317" r="6"/><text x="952" y="305">79</text></g>
<g id="n13"><circle class="b" cx="680" cy="332" r="6"/><text x="680" y="320">13</text></g>
<g id="n184"><circle class="b" cx="114" cy="333" r="6"/><text x="114" y="321">184</text></g>
<g id="n127"><circle class="b" cx="734" cy="343" r="6"/><text x="734" y="331">127</text></g>
<g id="n101"><circle class="b" cx="1169" cy="346" r="6"/><text x="1169" y="334">101</text></g>
<g id="n159"><circle class="b" cx="344" cy="348" r="6"/><text x="344" y="336">159</text></g>
<g id="n2"><circle class="b" cx="224" cy="349" r="6"/><text x="224" y="337">2</text></g>
<g id="n76"><circle class="b" cx="649" cy="353" r="6"/><text x="649" y="341">76</text></g>
<g id="n33"><circle class="b" cx="1047" cy="354" r="6"/><text x="1047" y="342">33</text></g>
<g id="n20"><circle class="b" cx="656" cy="362" r="6"/><text x="656" y="350">20</text></g>
<g id="n45"><circle class="b" cx="933" cy="363" r="6"/><text x="933" y="351">45</text></g>
<g id="n103"><circle class="b" cx="870" cy="370" r="6"/><text x="870" y="358">103</text></g>
<g id="n185"><circle class="b" cx="49" cy="370" r="6"/><text x="49" y="358">185</text></g>
<g id="n82"><circle class="b" cx="1089" cy="374" r="6"/><text x="1089" y="362">82</text></g>
<g id="n28"><circle class="b" cx="275" cy="375" r="6"/><text x="275" y="363">28</text></g>
<g id="n34"><circle class="b" cx="1282" cy="380" r="6"/><text x="1282" y="368">34</text></g>
<g id="n187"><circle class="b" cx="432" cy="382" r="6"/><text x="432" y="370">187</text></g>
<g id="n16"><circle class="b" cx="1233" cy="384" r="6"/><text x="1233" y="372">16</text></g>
<g id="n150"><circle class="b" cx="702" cy="389" r="6"/><text x="702" y="377">150</text></g>
<g id="n29"><circle class="b" cx="440" cy="392" r="6"/><text x="440" y="380">29</text></g>
<g id="n84"><circle class="b" cx="778" cy="394" r="6"/><text x="778" y="382">84</text></g>
<g id="n21"><circle class="b" cx="1183" cy="396" r="6"/><text x="1183" y="384">21</text></g>
<g id="n145"><circle class="b" cx="73" cy="398" r="6"/><text x="73" y="386">145</text></g>
<g id="n178"><circle class="b" cx="771" cy="399" r="6"/><text x="771" y="387">178</text></g>
<g id="n166"><circle class="b" cx="173" cy="404" r="6"/><text x="173" y="392">166</text></g>
<g id="n64"><circle class="b" cx="676" cy="407" r="6"/><text x="676" y="395">64</text></g>
<g id="n104"><circle class="b" cx="230" cy="408" r="6"/><text x="230" y="396">104</text></g>
<g id="n77"><circle class="o" cx="334" cy="24" r="6"/><text x="334" y="12">77</text></g>
<g id="n113"><circle class="o" cx="527" cy="29" r="6"/><text x="527" y="17">113</text></g>
<g id="n26"><circle class="o" cx="1164" cy="42" r="6"/><text x="1164" y="30">26</text></g>
<g id="n182"><circle class="o" cx="517" cy="42" r="6"/><text x="517" y="30">182</text></g>
<g id="n89"><circle class="o" cx="201" cy="44" r="6"/><text x="201" y="32">89</text></g>
<g id="n91"><circle class="o" cx="1142" cy="48" r="6"/><text x="1142" y="36">91</text></g>
<g id="n59"><circle class="o" cx="712" cy="61" r="6"/><text x="712" y="49">59</text></g>
<g id="n99"><circle class="o" cx="1018" cy="63" r="6"/><text x="1018" y="51">99</text></g>
<g id="n136"><circle class="o" cx="1188" cy="71" r="6"/><text x="1188" y="59">136</text></g>
<g id="n40"><circle class="o" cx="819" cy="72" r="6"/><text x="819" y="60">40</text></g>
<g id="n198"><circle class="o" cx="572" cy="74" r="6"/><text x="572" y="62">198</text></g>
<g id="n126"><circle class="o" cx="429" cy="77" r="6"/><text x="429" y="65">126</text></g>
<g id="n188"><circle class="o" cx="55" cy="79" r="6"/><text x="55" y="67">188</text></g>
<g id="n93"><circle class="o" cx="732" cy="90" r="6"/><text x="732" y="78">93</text></g>
<g id="n138"><circle class="o" cx="853" cy="98" r="6"/><text x="853" y="86">138</text></g>
<g id="n154"><circle class="o" cx="370" cy="99" r="6"/><text x="370" y="87">154</text></g>
<g id="n35"><circle class="o" cx="279" cy="108" r="6"/><text x="279" y="96">35</text></g>
<g id="n192"><circle class="o" cx="1049" cy="122" r="6"/><text x="1049" y="110">192</text></g>
<g id="n1"><circle class="o" cx="788" cy="124" r="6"/><text x="788" y="112">1</text></g>
<g id="n98"><circle class="o" cx="1167" cy="126" r="6"/><text x="1167" y="114">98</text></g>
<g id="n152"><circle class="o" cx="1267" cy="126" r="6"/><text x="1267" y="114">152</text></g>
<g id="n107"><circle class="o" cx="328" cy="131" r="6"/><text x="328" y="119">107</text></g>
<g id="n19"><circle class="o" cx="586" cy="142" r="6"/><text x="586" y="130">19</text></g>
<g id="n161"><circle class="o" cx="382" cy="152" r="6"/><text x="382" y="140">161</text></g>
<g id="n106"><circle class="o" cx="311" cy="155" r="6"/><text x="311" y="143">106</text></g>
<g id="n109"><circle class="o" cx="1106" cy="156" r="6"/><text x="1106" y="144">109</text></g>
<g id="n119"><circle class="o" cx="252" cy="157" r="6"/><text x="254" y="145">119</text></g>
<g id="n10"><circle class="o" cx="203" cy="170" r="6"/><text x="203" y="158">10</text></g>
<g id="n73"><circle class="o" cx="666" cy="171" r="6"/><text x="666" y="159">73</text></g>
<g id="n102"><circle class="o" cx="37" cy="173" r="6"/><text x="37" y="161">102</text></g>
<g id="n27"><circle class="o" cx="1199" cy="176" r="6"/><text x="1199" y="164">27</text></g>
<g id="n163"><circle class="o" cx="804" cy="193" r="6"/><text x="804" y="181">163</text></g>
<g id="n160"><circle class="o" cx="935" cy="195" r="6"/><text x="935" y="183">160</text></g>
<g id="n48"><circle class="o" cx="570" cy="205" r="6"/><text x="570" y="193">48</text></g>
<g id="n86"><circle class="o" cx="314" cy="209" r="6"/><text x="314" y="197">86</text></g>
<g id="n143"><circle class="o" cx="715" cy="228" r="6"/><text x="715" y="216">143</text></g>
<g id="n181"><circle class="o" cx="720" cy="230" r="6"/><text x="720" y="218">181</text></g>
<g id="n123"><circle class="o" cx="1256" cy="242" r="6"/><text x="1256" y="230">123</text></g>
<g id="n65"><circle class="o" cx="308" cy="246" r="6"/><text x="308" y="234">65</text></g>
<g id="n164"><circle class="o" cx="341" cy="246" r="6"/><text x="341" y="234">164</text></g>
<g id="n53"><circle class="o" cx="987" cy="249" r="6"/><text x="987" y="237">53</text></g>
<g id="n158"><circle class="o" cx="246" cy="250" r="6"/><text x="246" y="238">158</text></g>
<g id="n141"><circle class="o" cx="145" cy="263" r="6"/><text x="145" y="251">141</text></g>
<g id="n174"><circle class="o" cx="822" cy="263" r="6"/><text x="820" y="251">174</text></g>
<g id="n0"><circle class="o" cx="1235" cy="263" r="6"/><text x="1235" y="251">0</text></g>
<g id="n196"><circle class="o" cx="1014" cy="264" r="6"/><text x="1014" y="252">196</text></g>
<g id="n134"><circle class="o" cx="399" cy="269" r="6"/><text x="399" y="257">134</text></g>
<g id="n165"><circle class="o" cx="990" cy="270" r="6"/><text x="990" y="258">165</text></g>
<g id="n197"><circle class="o" cx="1210" cy="276" r="6"/><text x="1210" y="264">197</text></g>
<g id="n41"><circle class="o" cx="107" cy="280" r="6"/><text x="107" y="268">41</text></g>
<g id="n23"><circle class="o" cx="688" cy="288" r="6"/><text x="688" y="276">23</text></g>
<g id="n8"><circle class="o" cx="693" cy="291" r="6"/><text x="693" y="279">8</text></g>
<g id="n18"><circle class="o" cx="150" cy="291" r="6"/><text x="150" y="279">18</text></g>
<g id="n112"><circle class="o" cx="336" cy="306" r="6"/><text x="336" y="294">112</text></g>
<g id="n92"><circle class="o" cx="866" cy="309" r="6"/><text x="862" y="297">92</text></g>
<g id="n54"><circle class="o" cx="124" cy="320" r="6"/><text x="124" y="308">54</text></g>
<g id="n62"><circle class="o" cx="569" cy="320" r="6"/><text x="569" y="308">62</text></g>
<g id="n117"><circle class="o" cx="945" cy="333" r="6"/><text x="945" y="321">117</text></g>
<g id="n7"><circle class="o" cx="259" cy="338" r="6"/><text x="259" y="326">7</text></g>
<g id="n171"><circle class="o" cx="578" cy="342" r="6"/><text x="578" y="330">171</text></g>
<g id="n131"><circle class="o" cx="685" cy="355" r="6"/><text x="685" y="343">131</text></g>
<g id="n147"><circle class="o" cx="690" cy="360" r="6"/><text x="690" y="348">147</text></g>
<g id="n66"><circle class="o" cx="455" cy="363" r="6"/><text x="455" y="351">66</text></g>
<g id="n190"><circle class="o" cx="912" cy="363" r="6"/><text x="912" y="351">190</text></g>
<g id="n95"><circle class="o" cx="1167" cy="373" r="6"/><text x="1167" y="361">95</text></g>
<g id="n111"><circle class="o" cx="494" cy="373" r="6"/><text x="494" y="361">111</text></g>
<g id="n186"><circle class="o" cx="895" cy="373" r="6"/><text x="895" y="361">186</text></g>
<g id="n177"><circle class="o" cx="843" cy="382" r="6"/><text x="843" y="370">177</text></g>
<g id="n3"><circle class="o" cx="1128" cy="387" r="6"/><text x="1128" y="375">3</text></g>
<g id="n74"><circle class="o" cx="380" cy="389" r="6"/><text x="380" y="377">74</text></g>
<g id="n167"><circle class="o" cx="78" cy="392" r="6"/><text x="78" y="380">167</text></g>
<g id="n50"><circle class="o" cx="836" cy="397" r="6"/><text x="836" y="385">50</text></g>
<g id="n49"><circle class="o" cx="163" cy="400" r="6"/><text x="163" y="388">49</text></g>
<g id="n156"><circle class="o" cx="1251" cy="400" r="6"/><text x="1251" y="388">156</text></g>
<g id="n5"><circle class="o" cx="1260" cy="401" r="6"/><text x="1260" y="389">5</text></g>
<g id="n122"><circle class="o" cx="1207" cy="403" r="6"/><text x="1207" y="391">122</text></g>
<g id="n36"><circle class="o" cx="1063" cy="407" r="6"/><text x="1063" y="395">36</text></g>
</g>
</svg>
